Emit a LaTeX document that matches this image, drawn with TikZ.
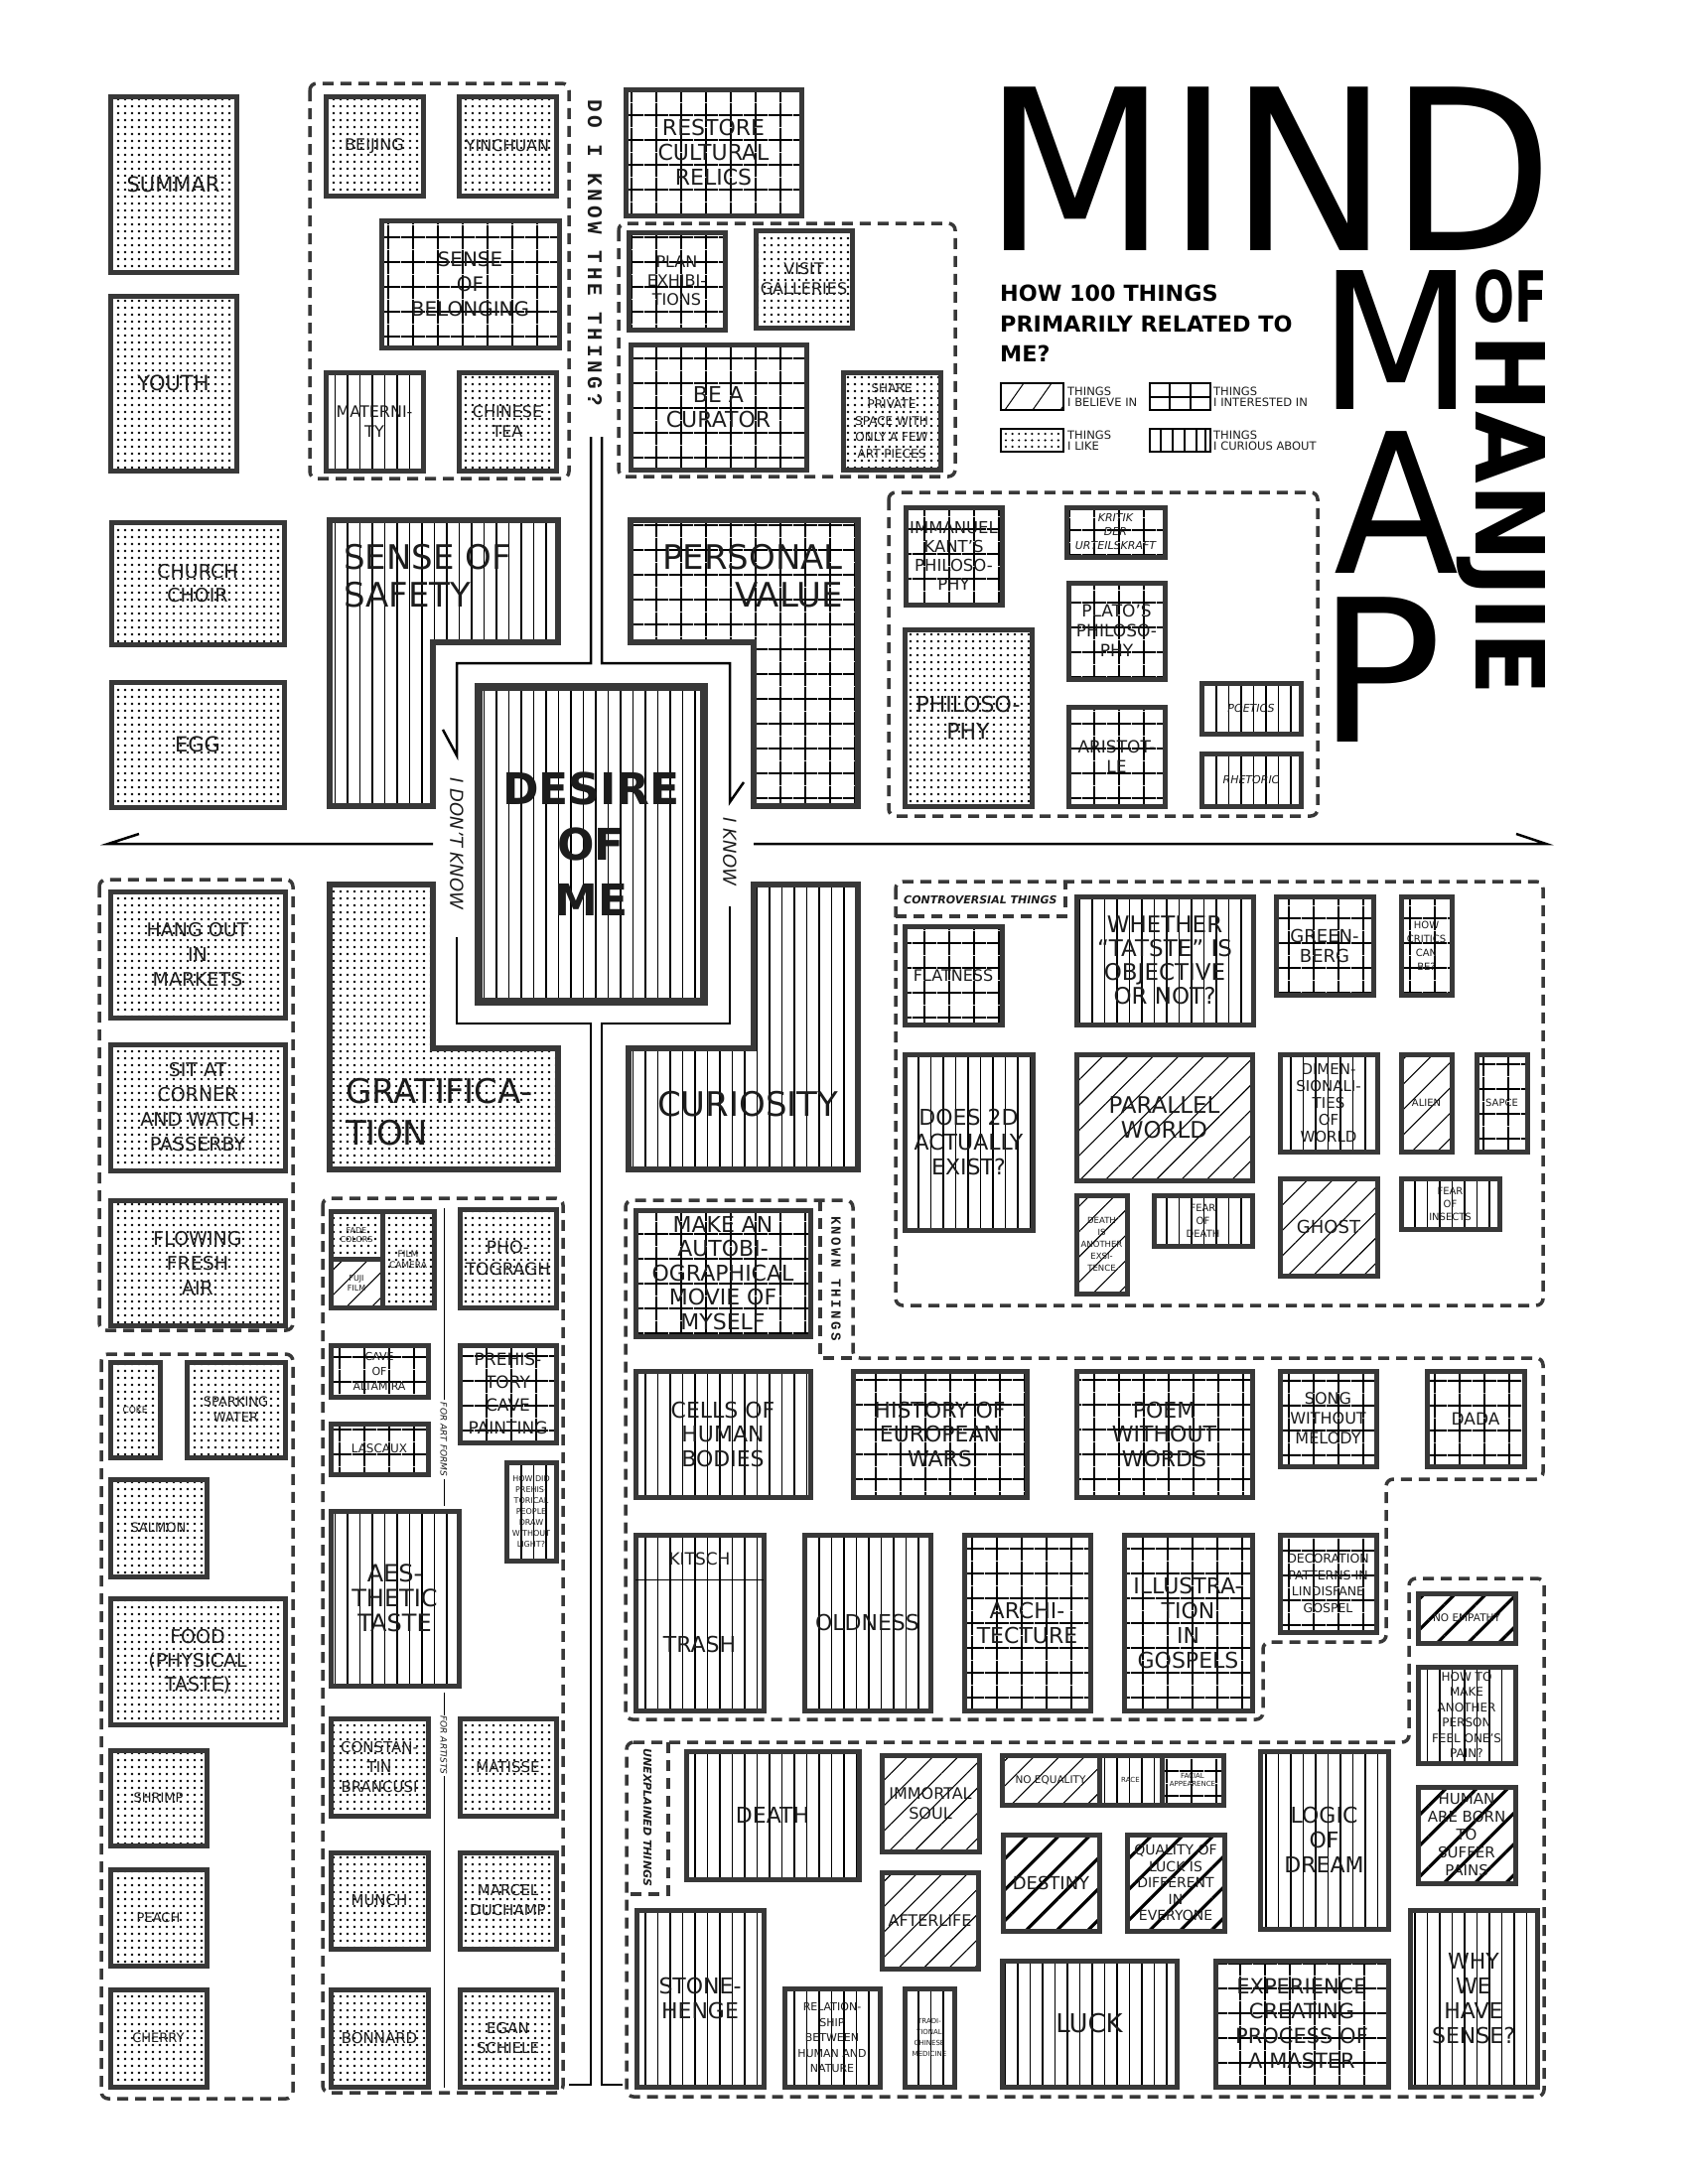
\documentclass[tikz,border=0pt]{standalone}
\usepackage{fontspec}
\usepackage{graphicx}
\setmainfont{DejaVu Sans}
\newfontfamily\monob{Liberation Mono}[LetterSpace=18]
\usetikzlibrary{patterns.meta}
\definecolor{bord}{HTML}{383838}
\definecolor{ink}{HTML}{1c1c1c}
\newcommand\fsz[2]{\fontsize{#1}{#2}\selectfont}
\tikzset{
  x=1pt, y=-1pt,
  bxs/.style={draw=bord, line width=5pt, inner sep=0pt, align=center, text=ink},
  lsh/.style={draw=bord, line width=6pt},
  like/.style={pattern={Dots[radius=1.4pt, distance=7pt]}, pattern color=black},
  curious/.style={pattern={Lines[angle=90, distance=12.5pt, line width=1.8pt]}},
  interested/.style={pattern={Hatch[distance=24.5pt, line width=1.8pt]}},
  believe/.style={pattern={Lines[angle=45, distance=18pt, line width=1.1pt]}},
  believeb/.style={pattern={Lines[angle=45, distance=22pt, line width=3.2pt]}},
  grp/.style={draw=bord, line width=3.5pt, dash pattern=on 11pt off 7pt, rounded corners=7pt},
  tab/.style={draw=bord, line width=3.5pt, dash pattern=on 11pt off 7pt},
  road/.style={draw=black, line width=2.5pt},
  lg/.style={draw=black, line width=1.2pt, inner sep=0pt},
  lbl/.style={inner sep=0pt, text=ink},
}
\newcommand\bx[8]{\node[bxs,#6,minimum width={#4-#2},minimum height={#5-#3},font={#7}] (#1) at ({(#2+#4)/2},{(#3+#5)/2}) {#8};}
\begin{document}
\begin{tikzpicture}
\fill[white] (0,0) rectangle (1700,2200);
\useasboundingbox (0,0) rectangle (1700,2200);

% ---------- dashed groups ----------
\draw[grp] (312,84) rectangle (573,482);
\draw[grp] (623,225) rectangle (962,480);
\draw[grp] (895,496) rectangle (1327,822);
\draw[grp] (902,888) rectangle (1554,1315);
\draw[tab] (902,923) -- (1073,923) -- (1073,888);
\draw[grp] (100,886) rectangle (295,1340);
\draw[grp] (102,1364) rectangle (295,2114);
\draw[grp] (325,1207) rectangle (567,2108);
\draw[grp] (859,1368) -- (1554,1368) -- (1554,1490) -- (1396,1490) -- (1396,1654) -- (1272,1654) -- (1272,1732) -- (630,1732) -- (630,1209) -- (859,1209) -- cycle;
\draw[tab] (826,1209) -- (826,1368) -- (859,1368);
\draw[grp] (631,1755) -- (1419,1755) -- (1419,1590) -- (1555,1590) -- (1555,2112) -- (631,2112) -- cycle;
\draw[tab] (673,1755) -- (673,1908) -- (631,1908);

% ---------- left column ----------
\bx{summar}{111}{97}{238}{274}{like}{\fsz{21}{24}}{SUMMAR}
\bx{youth}{111}{298}{238}{474}{like}{\fsz{21}{24}}{YOUTH}
\bx{church}{112}{526}{286}{649}{like}{\fsz{19}{24}}{CHURCH\\CHOIR}
\bx{egg}{112}{687}{286}{813}{like}{\fsz{21}{24}}{EGG}

% ---------- group 1 ----------
\bx{beijing}{328}{97}{426}{197}{like}{\fsz{16}{20}}{BEIJING}
\bx{yinchuan}{462}{97}{560}{197}{like}{\fsz{16}{20}}{YINCHUAN}
\bx{belong}{384}{222}{563}{350}{interested}{\fsz{20}{25}}{SENSE\\OF\\BELONGING}
\bx{matern}{328}{375}{426}{474}{curious}{\fsz{16}{20}}{MATERNI-\\TY}
\bx{tea}{462}{375}{560}{474}{like}{\fsz{16}{20}}{CHINESE\\TEA}

% ---------- curator group ----------
\bx{relics}{630}{90}{807}{217}{interested}{\fsz{22}{25}}{RESTORE\\CULTURAL\\RELICS}
\bx{plan}{633}{234}{730}{332}{interested}{\fsz{16}{19}}{PLAN\\EXHIBI-\\TIONS}
\bx{visit}{761}{232}{858}{330}{like}{\fsz{16}{20}}{VISIT\\GALLERIES}
\bx{curator}{635}{347}{812}{473}{interested}{\fsz{22}{25}}{BE A\\CURATOR}
\bx{share}{849}{375}{947}{473}{like}{\fsz{12}{16.5}}{SHARE\\PRIVATE\\SPACE WITH\\ONLY A FEW\\ART PIECES}

% ---------- philosophy group ----------
\bx{kant}{912}{511}{1009}{609}{interested}{\fsz{16.5}{19}}{IMMANUEL\\KANT'S\\PHILOSO-\\PHY}
\bx{kritik}{1074}{511}{1173}{561}{interested}{\fsz{11}{14}\itshape}{KRITIK\\DER\\URTEILSKRAFT}
\bx{plato}{1076}{587}{1173}{684}{interested}{\fsz{17}{20}}{PLATO'S\\PHILOSO-\\PHY}
\bx{philo}{911}{634}{1039}{812}{like}{\fsz{22}{27}}{PHILOSO-\\PHY}
\bx{aristotle}{1076}{712}{1173}{812}{interested}{\fsz{17}{20}}{ARISTOT-\\LE}
\bx{poetics}{1210}{688}{1310}{739}{curious}{\fsz{11}{13}\itshape}{POETICS}
\bx{rhetoric}{1210}{759}{1310}{812}{curious}{\fsz{11}{13}\itshape}{RHETORIC}

% ---------- centre ----------
\path[lsh, curious] (332,524) -- (562,524) -- (562,647) -- (436,647) -- (436,812) -- (332,812) -- cycle;
\path[lsh, interested] (635,524) -- (864,524) -- (864,812) -- (759,812) -- (759,647) -- (635,647) -- cycle;
\path[lsh, like] (332,891) -- (436,891) -- (436,1056) -- (562,1056) -- (562,1178) -- (332,1178) -- cycle;
\path[lsh, curious] (759,891) -- (864,891) -- (864,1178) -- (633,1178) -- (633,1056) -- (759,1056) -- cycle;
\node[bxs, curious, line width=8pt, minimum width=227, minimum height=317, font=\fsz{44}{56}\bfseries] (desire) at (595.3,850.5) {DESIRE\\OF\\ME};
\node[lbl, anchor=west, align=left, font=\fsz{34}{38}] (safety) at (346,580.5) {SENSE OF\\SAFETY};
\node[lbl, anchor=east, align=right, font=\fsz{34}{38}] (pvalue) at (849,580.5) {PERSONAL\\VALUE};
\node[lbl, anchor=west, align=left, font=\fsz{34}{42}] (grat) at (348,1120.5) {GRATIFICA-\\TION};
\node[lbl, anchor=west, font=\fsz{34}{38}] (curio) at (662,1112.5) {CURIOSITY};

% roads
\draw[road] (595,440) -- (595,668) -- (460,668) -- (460,761) -- (446,735);
\draw[road] (460,944) -- (460,1031) -- (595,1031) -- (595,2100) -- (573,2100);
\draw[road] (606,440) -- (606,668) -- (735,668) -- (735,808) -- (749,788);
\draw[road] (735,913) -- (735,1031) -- (606,1031) -- (606,2100) -- (627,2100);
\draw[road] (140,840) -- (109,850) -- (436,850);
\draw[road] (759,850) -- (1557,850) -- (1527,840);
\node[lbl, rotate=-90, font=\fsz{18}{18}\itshape] (dontknow) at (460,850) {I DON'T KNOW};
\node[lbl, rotate=-90, font=\fsz{18}{18}\itshape] (iknow) at (735,858) {I KNOW};
\node[lbl, rotate=-90, anchor=base west, font=\monob\bfseries\fsz{21}{21}] (doi) at (592,100) {DO I KNOW THE THING?};

% ---------- markets / food ----------
\bx{hang}{111}{898}{287}{1025}{like}{\fsz{19}{25}}{HANG OUT\\IN\\MARKETS}
\bx{sit}{111}{1052}{287}{1179}{like}{\fsz{19}{25}}{SIT AT\\CORNER\\AND WATCH\\PASSERBY}
\bx{flow}{111}{1209}{287}{1335}{like}{\fsz{19}{25}}{FLOWING\\FRESH\\AIR}
\bx{coke}{111}{1372}{161}{1468}{like}{\fsz{9}{11}}{COKE}
\bx{spark}{188}{1372}{287}{1468}{like}{\fsz{13}{16}}{SPARKING\\WATER}
\bx{salmon}{111}{1490}{208}{1588}{like}{\fsz{13}{16}}{SALMON}
\bx{food}{111}{1610}{287}{1737}{like}{\fsz{19}{24}}{FOOD\\(PHYSICAL\\TASTE)}
\bx{shrimp}{111}{1763}{208}{1859}{like}{\fsz{13}{16}}{SHRIMP}
\bx{peach}{111}{1883}{208}{1980}{like}{\fsz{13}{16}}{PEACH}
\bx{cherry}{111}{2004}{208}{2102}{like}{\fsz{13}{16}}{CHERRY}

% ---------- art group ----------
\bx{fade}{333}{1220}{385}{1268}{like}{\fsz{8}{9}}{FADE\\COLORS}
\bx{fuji}{333}{1268}{385}{1317}{believe}{\fsz{8}{10}}{FUJI\\FILM}
\bx{camera}{385}{1220}{437}{1317}{like}{\fsz{9}{11}}{FILM\\CAMERA}
\bx{photo}{463}{1218}{560}{1317}{like}{\fsz{17}{22}}{PHO-\\TOGRAGH}
\bx{altamira}{333}{1355}{431}{1407}{interested}{\fsz{11}{15}}{CAVE\\OF\\ALTAMIRA}
\bx{lascaux}{333}{1434}{431}{1485}{interested}{\fsz{12}{14}}{LASCAUX}
\bx{prehis}{463}{1355}{560}{1453}{interested}{\fsz{17}{23}}{PREHIS-\\TORY\\CAVE\\PAINTING}
\bx{howdid}{510}{1473}{560}{1572}{curious}{\fsz{8}{11}}{HOW DID\\PREHIS-\\TORICAL\\PEOPLE\\DRAW\\WITHOUT\\LIGHT?}
\bx{aesth}{333}{1522}{462}{1698}{curious}{\fsz{24}{25}}{AES-\\THETIC\\TASTE}
\bx{brancusi}{333}{1731}{431}{1829}{like}{\fsz{15}{20}}{CONSTAN-\\TIN\\BRANCUSI}
\bx{matisse}{463}{1731}{560}{1829}{like}{\fsz{15}{20}}{MATISSE}
\bx{munch}{333}{1866}{431}{1963}{like}{\fsz{15}{20}}{MUNCH}
\bx{duchamp}{463}{1866}{560}{1963}{like}{\fsz{15}{20}}{MARCEL\\DUCHAMP}
\bx{bonnard}{333}{2004}{431}{2102}{like}{\fsz{15}{20}}{BONNARD}
\bx{schiele}{463}{2004}{560}{2102}{like}{\fsz{15}{20}}{EGAN\\SCHIELE}
\draw[line width=1pt] (447,1217) -- (447,1410);
\node[lbl, rotate=-90, font=\fsz{9}{9}\itshape] (artforms) at (447,1450) {FOR ART FORMS};
\draw[line width=1pt] (447,1490) -- (447,1517);
\draw[line width=1pt] (447,1705) -- (447,1728);
\node[lbl, rotate=-90, font=\fsz{9}{9}\itshape] (artists) at (447,1758) {FOR ARTISTS};
\draw[line width=1pt] (447,1789) -- (447,2103);

% ---------- known things ----------
\node[lbl, rotate=-90, font=\monob\bfseries\fsz{14}{14}] (known) at (842,1288) {KNOWN THINGS};
\bx{movie}{640}{1219}{816}{1346}{interested}{\fsz{22}{24.5}}{MAKE AN\\AUTOBI-\\OGRAPHICAL\\MOVIE OF\\MYSELF}
\bx{cells}{640}{1381}{816}{1508}{curious}{\fsz{22}{24.5}}{CELLS OF\\HUMAN\\BODIES}
\bx{wars}{859}{1381}{1034}{1508}{interested}{\fsz{22}{24.5}}{HISTORY OF\\EUROPEAN\\WARS}
\bx{poem}{1084}{1381}{1261}{1508}{interested}{\fsz{22}{24.5}}{POEM\\WITHOUT\\WORDS}
\bx{song}{1289}{1381}{1386}{1477}{interested}{\fsz{16}{20}}{SONG\\WITHOUT\\MELODY}
\bx{dada}{1437}{1381}{1535}{1477}{interested}{\fsz{17}{20}}{DADA}
\bx{kitsch}{640}{1546}{769}{1723}{curious}{}{}
\draw[line width=1pt] (640,1591) -- (769,1591);
\node[lbl, font=\fsz{17}{20}] (kitscht) at (704.5,1570) {KITSCH};
\node[lbl, font=\fsz{22}{24}] (trasht) at (704.5,1656) {TRASH};
\bx{oldness}{810}{1546}{937}{1723}{curious}{\fsz{22}{24}}{OLDNESS}
\bx{archi}{971}{1546}{1098}{1723}{interested}{\fsz{22}{25}}{ARCHI-\\TECTURE}
\bx{illus}{1132}{1546}{1261}{1723}{interested}{\fsz{22}{25}}{ILLUSTRA-\\TION\\IN\\GOSPELS}
\bx{decor}{1289}{1546}{1386}{1644}{interested}{\fsz{12.5}{16.5}}{DECORATION\\PATTERNS IN\\LINDISFANE\\GOSPEL}

% ---------- controversial ----------
\node[lbl, anchor=west, font=\fsz{11}{11}\bfseries\itshape] (contro) at (910,906) {CONTROVERSIAL THINGS};
\bx{flat}{911}{933}{1009}{1032}{interested}{\fsz{16}{20}}{FLATNESS}
\bx{tatste}{1084}{903}{1262}{1032}{curious}{\fsz{23}{24}}{WHETHER\\``TATSTE'' IS\\OBJECTIVE\\OR NOT?}
\bx{green}{1285}{903}{1383}{1002}{interested}{\fsz{18}{20}}{GREEN-\\BERG}
\bx{critics}{1411}{903}{1462}{1002}{interested}{\fsz{10}{14}}{HOW\\CRITICS\\CAN\\BE?}
\bx{twod}{911}{1062}{1040}{1239}{curious}{\fsz{22}{25}}{DOES 2D\\ACTUALLY\\EXIST?}
\bx{parallel}{1084}{1062}{1261}{1189}{believe}{\fsz{23}{25}}{PARALLEL\\WORLD}
\bx{dimen}{1289}{1062}{1387}{1160}{curious}{\fsz{15}{17}}{DIMEN-\\SIONALI-\\TIES\\OF\\WORLD}
\bx{alien}{1411}{1062}{1462}{1160}{believe}{\fsz{10}{12}}{ALIEN}
\bx{sapce}{1487}{1062}{1538}{1160}{interested}{\fsz{10}{12}}{SAPCE}
\bx{deathis}{1084}{1204}{1135}{1303}{believe}{\fsz{8.5}{12}}{DEATH\\IS\\ANOTHER\\EXSI-\\TENCE}
\bx{feardeath}{1162}{1204}{1261}{1255}{curious}{\fsz{10}{13}}{FEAR\\OF\\DEATH}
\bx{ghost}{1289}{1187}{1387}{1285}{believe}{\fsz{18}{20}}{GHOST}
\bx{insects}{1411}{1187}{1510}{1238}{curious}{\fsz{10}{13}}{FEAR\\OF\\INSECTS}

% ---------- unexplained ----------
\node[lbl, rotate=-90, font=\fsz{11}{11}\bfseries\itshape] (unexp) at (652,1831) {UNEXPLAINED THINGS};
\bx{death}{691}{1764}{865}{1893}{curious}{\fsz{22}{25}}{DEATH}
\bx{immortal}{888}{1768}{986}{1865}{believe}{\fsz{16}{20}}{IMMORTAL\\SOUL}
\bx{noeq}{1009}{1768}{1107}{1818}{believe}{\fsz{10.5}{12}}{NO EQUALITY}
\bx{race}{1107}{1768}{1170}{1818}{curious}{\fsz{7}{9}}{RACE}
\bx{facial}{1170}{1768}{1232}{1818}{interested}{\fsz{7}{8.5}}{FACIAL\\APPEARENCE}
\bx{logic}{1269}{1764}{1398}{1943}{curious}{\fsz{22}{25}}{LOGIC\\OF\\DREAM}
\bx{afterlife}{888}{1886}{985}{1983}{believe}{\fsz{16}{20}}{AFTERLIFE}
\bx{destiny}{1010}{1848}{1107}{1945}{believeb}{\fsz{18}{20}}{DESTINY}
\bx{quality}{1135}{1848}{1233}{1945}{believeb}{\fsz{14}{16.5}}{QUALITY OF\\LUCK IS\\DIFFERENT\\IN\\EVERYONE}
\bx{stone}{641}{1924}{769}{2102}{curious}{\fsz{22}{25}}{STONE-\\HENGE}
\bx{relation}{790}{2003}{886}{2102}{curious}{\fsz{11}{15.5}}{RELATION-\\SHIP\\BETWEEN\\HUMAN AND\\NATURE}
\bx{tcm}{911}{2003}{961}{2102}{curious}{\fsz{7}{11}}{TRADI-\\TIONAL\\CHINESE\\MEDICINE}
\bx{luck}{1009}{1975}{1185}{2102}{curious}{\fsz{26}{28}}{LUCK}
\bx{experience}{1224}{1975}{1398}{2102}{interested}{\fsz{21}{25}}{EXPERIENCE\\CREATING\\PROCESS OF\\A MASTER}
\bx{noemp}{1428}{1605}{1526}{1655}{believeb}{\fsz{10.5}{12}}{NO EMPATHY}
\bx{howto}{1428}{1679}{1526}{1776}{curious}{\fsz{12}{15.5}}{HOW TO\\MAKE\\ANOTHER\\PERSON\\FEEL ONE'S\\PAIN?}
\bx{human}{1428}{1800}{1526}{1897}{believeb}{\fsz{15}{18}}{HUMAN\\ARE BORN\\TO\\SUFFER\\PAINS}
\bx{why}{1420}{1924}{1548}{2102}{curious}{\fsz{22}{25}}{WHY\\WE\\HAVE\\SENSE?}

% ---------- title ----------
\node[lbl, anchor=base west, font=\fsz{226}{226}, text=black] (mind) at (990,252) {\scalebox{0.95}[1]{MIND}};
\node[lbl, anchor=base west, font=\fsz{192}{192}, text=black] (mapm) at (1328,412) {\scalebox{0.94}[1]{M}};
\node[lbl, anchor=base west, font=\fsz{196}{196}, text=black] (mapa) at (1343,577) {\scalebox{0.94}[1]{A}};
\node[lbl, anchor=base west, font=\fsz{200}{200}, text=black] (mapp) at (1326,747) {\scalebox{1.05}[1]{P}};
\node[lbl, anchor=base west, font=\fsz{71}{71}\bfseries, text=black] (of) at (1484,324) {\scalebox{0.68}[1]{OF}};
\node[lbl, rotate=-90, anchor=base west, font=\fsz{96}{96}\bfseries, text=black] (hanjie) at (1486,336) {\scalebox{0.98}[1]{HANJIE}};
\node[lbl, anchor=north west, align=left, font=\fsz{22.3}{30.5}\bfseries, text=black] (how) at (1007,287) {HOW 100 THINGS\\PRIMARILY RELATED TO\\ME?};

% ---------- legend ----------
\node[lg, minimum width=63, minimum height=27] (lgb) at (1039.5,399.5) {};
\begin{scope}
\clip (1008,386) rectangle (1071,413);
\foreach \xx in {984,1012,1040,1068} \draw[line width=1pt] (\xx,413) -- (\xx+19,386);
\end{scope}
\node[lg, minimum width=61, minimum height=27] (lgi) at (1188.5,399.5) {};
\draw[line width=2pt] (1178,386) -- (1178,413) (1199,386) -- (1199,413) (1158,399.5) -- (1219,399.5);
\node[lg, minimum width=63, minimum height=23] (lgl) at (1039.5,443.5) {};
\foreach \rr in {437,443.5,450} \foreach \cc in {0,...,8} \fill (1013+\cc*6.6,\rr) circle (1.2);
\node[lg, minimum width=61, minimum height=23] (lgc) at (1188.5,443.5) {};
\foreach \xx in {1169,1181,1193,1205,1214} \draw[line width=2pt] (\xx,432) -- (\xx,455);
\node[lbl, anchor=west, align=left, font=\fsz{11.5}{11}] (lgbt) at (1075,399.5) {THINGS\\I BELIEVE IN};
\node[lbl, anchor=west, align=left, font=\fsz{11.5}{11}] (lgit) at (1222,399.5) {THINGS\\I INTERESTED IN};
\node[lbl, anchor=west, align=left, font=\fsz{11.5}{11}] (lglt) at (1075,443.5) {THINGS\\I LIKE};
\node[lbl, anchor=west, align=left, font=\fsz{11.5}{11}] (lgct) at (1222,443.5) {THINGS\\I CURIOUS ABOUT};
\end{tikzpicture}
\end{document}
